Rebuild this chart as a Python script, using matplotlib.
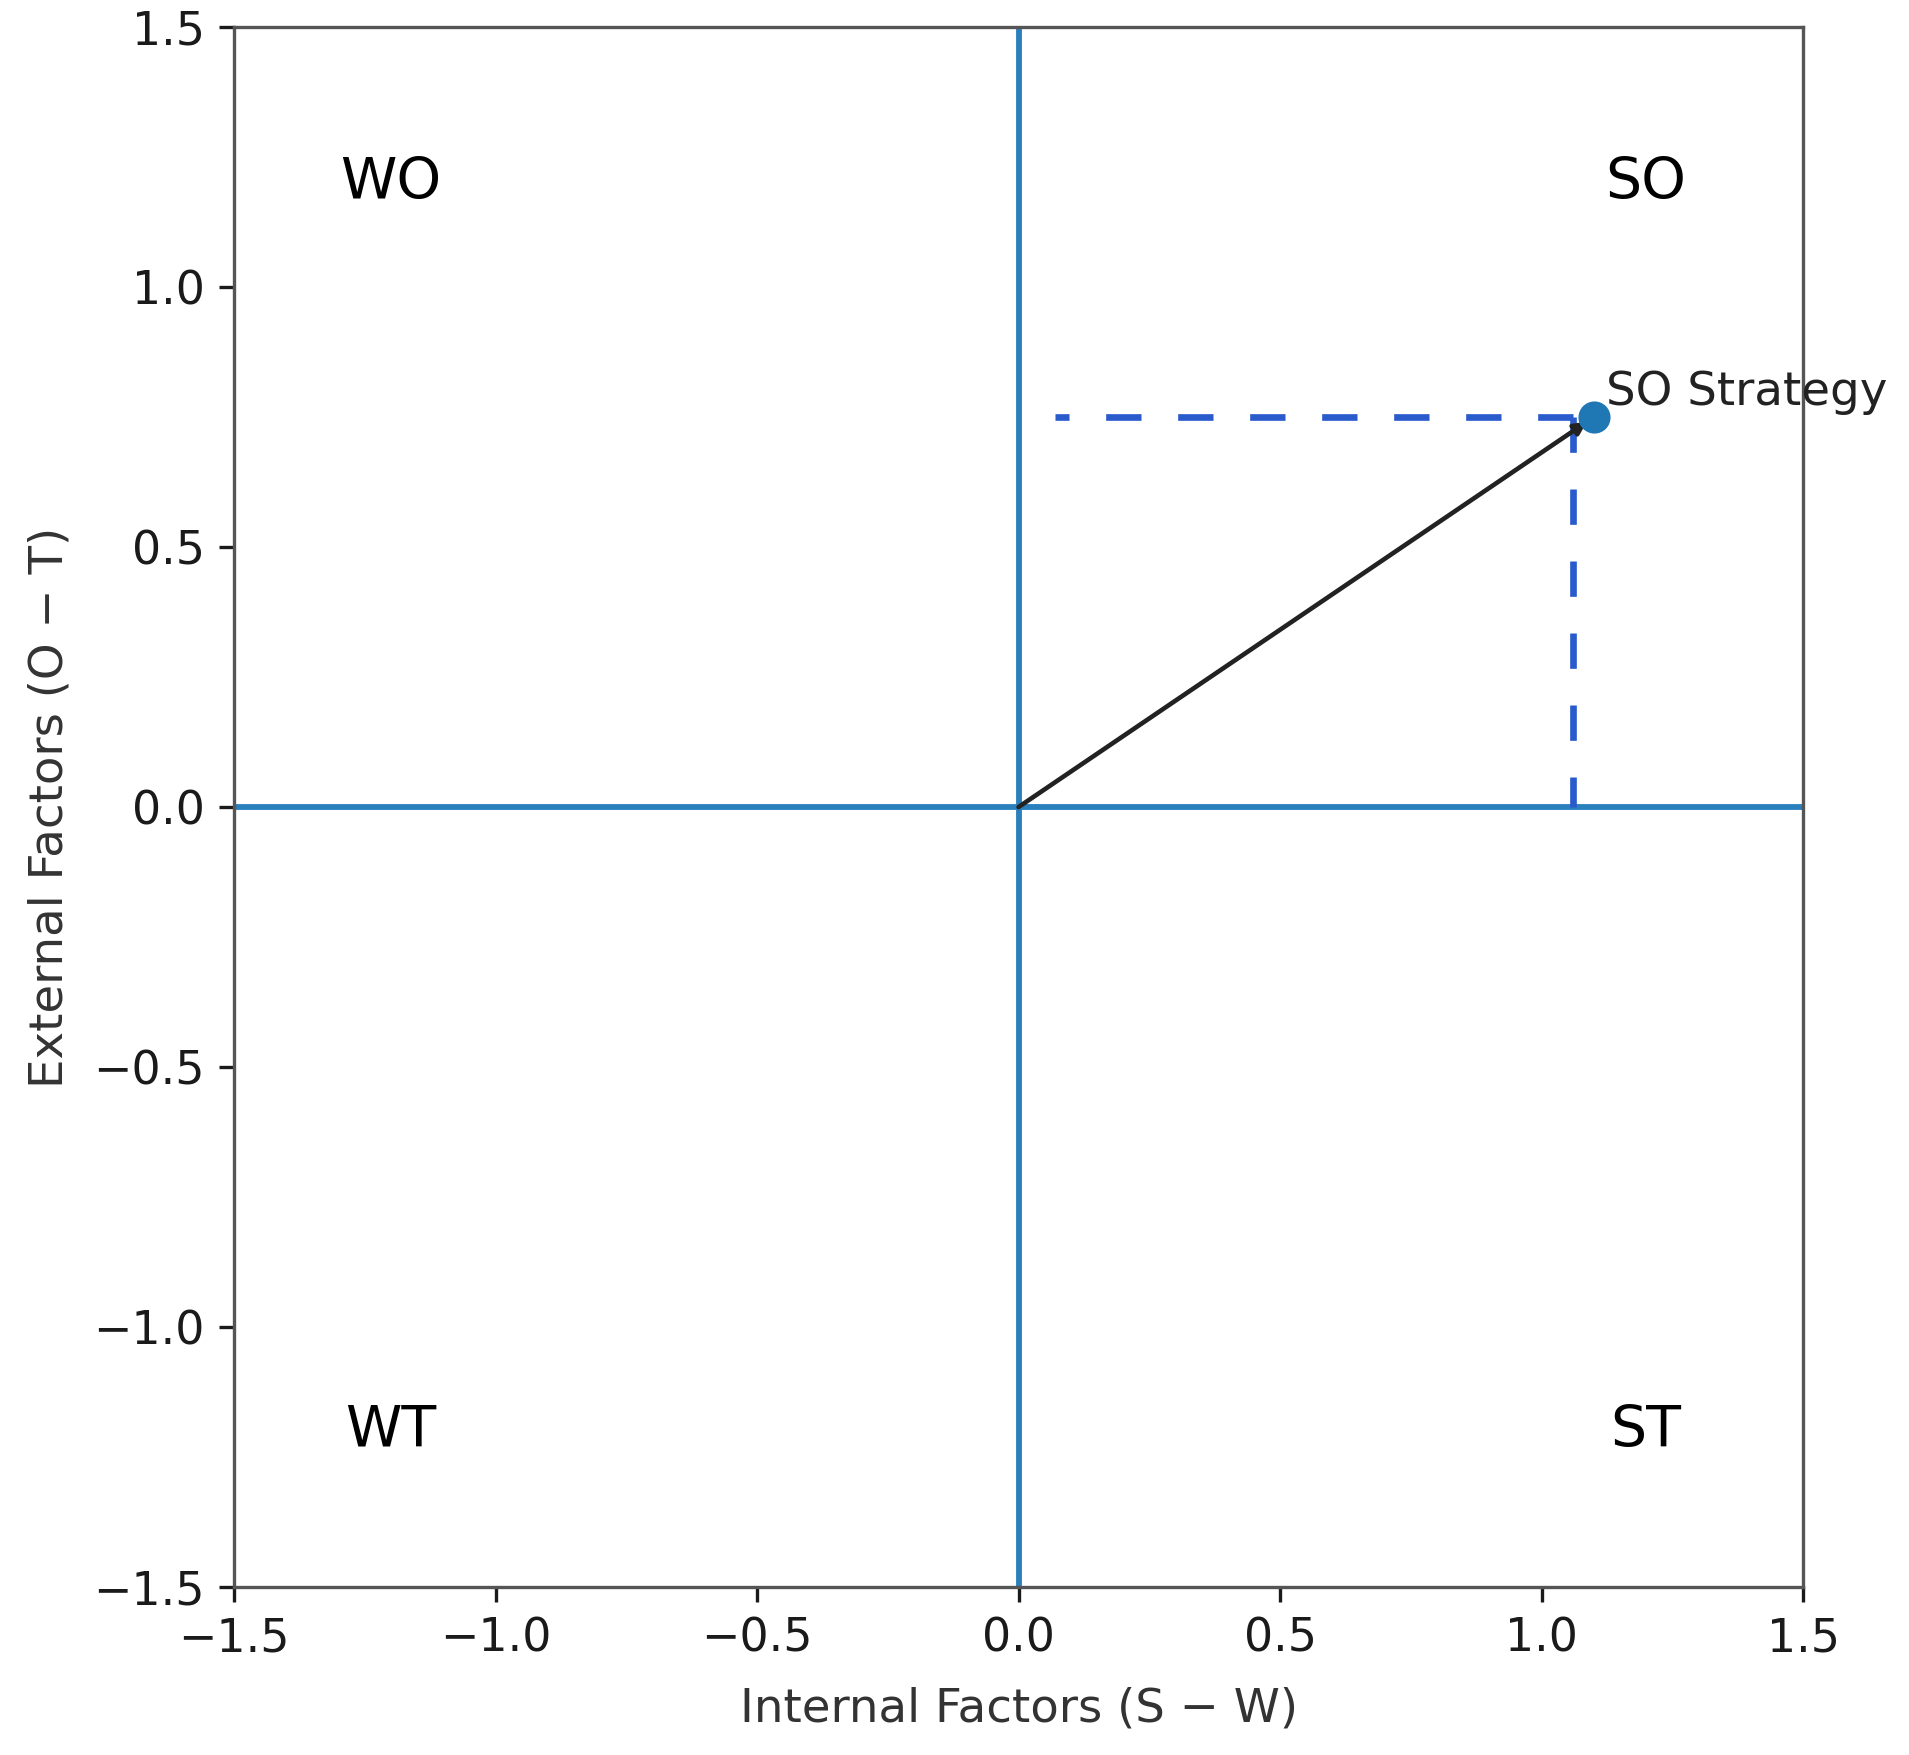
import matplotlib
matplotlib.use('Agg')
import matplotlib.pyplot as plt

# strategy point (internal S-W, external O-T)
point_x = [1.1]
point_y = [0.75]
point_label = ['SO Strategy']

# dashed guide lines drawn to the axes
guide_x = [1.06]
guide_y = [0.75]
guide_hline_start = [0.07]

# quadrant names and where they sit
quad_names = ['WO', 'SO', 'WT', 'ST']
quad_x = [-1.2, 1.2, -1.2, 1.2]
quad_y = [1.2, 1.2, -1.2, -1.2]

ticks = [-1.5, -1.0, -0.5, 0.0, 0.5, 1.0, 1.5]

fig = plt.figure(figsize=(1909 / 300, 1755 / 300), dpi=300)
ax = fig.add_axes([0.1226, 0.0957, 0.8219, 0.8889])

# quadrant axes
ax.axhline(0, color='#2a7fbd', lw=1.4)
ax.axvline(0, color='#2a7fbd', lw=1.4)

# arrow from origin to the strategy point
ax.annotate('', xy=(point_x[0], point_y[0]), xytext=(0, 0),
            arrowprops=dict(arrowstyle='-|>', color='#222222', lw=1.1,
                            mutation_scale=6, shrinkA=0, shrinkB=2))

# dashed guides
ax.plot([guide_x[0], guide_x[0]], [guide_y[0], 0], color='#2a5bcc',
        lw=1.6, dashes=(5.3, 5.5))
ax.plot([guide_x[0], guide_hline_start[0]], [guide_y[0], guide_y[0]],
        color='#2a5bcc', lw=1.6, dashes=(5.3, 5.5))

ax.scatter(point_x, point_y, s=45, color='#1f77b4', zorder=3)
for x, y, lab in zip(point_x, point_y, point_label):
    ax.annotate(lab, (x, y), xytext=(3, 3), textcoords='offset points',
                fontsize=11.2, color='#222222')

for name, x, y in zip(quad_names, quad_x, quad_y):
    ax.text(x, y, name, fontsize=13.7, ha='center', va='center')

ax.set_xlim(-1.5, 1.5)
ax.set_ylim(-1.5, 1.5)
ax.set_xticks(ticks)
ax.set_yticks(ticks)
ax.tick_params(labelsize=11, length=3.5, width=0.8, colors='#1a1a1a')
for s in ax.spines.values():
    s.set_linewidth(0.8)
    s.set_color('#555555')

ax.set_xlabel('Internal Factors (S − W)', fontsize=11.2, color='#333333', labelpad=6)
ax.set_ylabel('External Factors (O − T)', fontsize=11.2, color='#333333', labelpad=5)

fig.savefig('out.png', dpi=300)
